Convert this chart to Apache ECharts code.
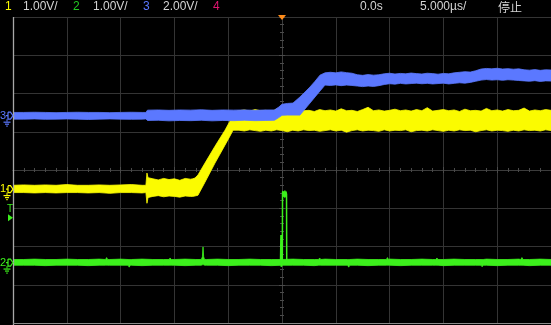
<!DOCTYPE html>
<html><head><meta charset="utf-8">
<script src="https://cdn.jsdelivr.net/npm/echarts@6/dist/echarts.min.js"></script>
<style>html,body{margin:0;padding:0;background:#000;overflow:hidden}#c{width:551px;height:325px}</style>
</head><body><div id="c"></div>
<script>
// ---- scope settings (read from the header) ----
const chLabels = ['1', '2', '3', '4'];
const chScaleText = ['1.00V/', '1.00V/', '2.00V/'];
const timeCenterText = '0.0s';
const timeScaleText = '5.000µs/';
const runStateText = '停止';
const voltsPerDiv = { ch1: 1.0, ch2: 1.0, ch3: 2.0 };
const offsetDiv = { ch1: -0.5, ch2: -2.42, ch3: 1.42 };
const triggerLevelCh2 = 1.17;

// ---- channel 1 (yellow) envelope, time in µs, volts ----
const ch1Time = [-25,-24,-23,-22,-21,-20,-19,-18,-17,-16,-15,-14,-13,-12.65,
  -12.55,-12.45,
  -12,-11.5,-11,-10.5,-10,-9.5,-9,-8.5,-8.3,
  -8.09,-7.81,-7.16,-6.23,-5.30,-4.83,-4.55,-4.18,
  -4,-3.5,-3,-2.5,-2,-1.5,-1,-0.5,0,0.5,1,1.5,2,2.5,3,3.5,4,4.5,5,5.5,6,6.5,7,7.5,8,8.5,9,9.5,10,10.5,11,11.5,12,12.5,13,13.5,14,14.5,15,15.5,16,16.5,17,17.5,18,18.5,19,19.5,20,20.5,21,21.5,22,22.5,23,23.5,24,24.5,25];
const ch1Hi = [0.10,0.11,0.10,0.11,0.10,0.12,0.10,0.10,0.11,0.10,0.11,0.12,0.10,0.10,
  0.42,0.30,
  0.27,0.24,0.28,0.25,0.27,0.23,0.28,0.26,0.27,
  0.29,0.37,0.68,1.12,1.54,1.78,1.91,2.04,
  2.05,2.07,2.04,2.08,2.05,2.06,2.03,2.09,2.05,2.07,
  2.04,2.12,2.05,2.06,2.03,2.08,2.05,2.07,2.04,2.10,
  2.05,2.06,2.03,2.08,2.14,2.05,2.07,2.04,2.06,2.09,
  2.05,2.07,2.04,2.08,2.05,2.13,2.04,2.06,2.08,2.05,
  2.07,2.03,2.09,2.05,2.06,2.04,2.11,2.05,2.07,2.04,
  2.08,2.05,2.06,2.12,2.04,2.07,2.05,2.08,2.06];
const ch1Lo = [-0.09,-0.09,-0.10,-0.09,-0.10,-0.09,-0.09,-0.10,-0.09,-0.11,-0.09,-0.09,-0.10,-0.09,
  -0.37,-0.22,
  -0.19,-0.17,-0.20,-0.18,-0.19,-0.21,-0.18,-0.19,-0.19,
  -0.18,-0.16,0.18,0.68,1.15,1.39,1.54,1.54,
  1.54,1.52,1.55,1.53,1.51,1.54,1.52,1.55,1.53,1.50,
  1.54,1.52,1.55,1.53,1.54,1.51,1.53,1.55,1.52,1.54,
  1.49,1.53,1.55,1.52,1.54,1.53,1.51,1.55,1.52,1.54,
  1.53,1.55,1.50,1.53,1.54,1.52,1.55,1.53,1.51,1.54,
  1.52,1.55,1.53,1.54,1.50,1.53,1.55,1.52,1.54,1.53,
  1.51,1.54,1.52,1.55,1.53,1.54,1.52,1.55,1.53];

// ---- channel 3 (blue) envelope ----
const ch3Time = [-25,-24,-23,-22,-21,-20,-19,-18,-17,-16,-15,-14,-13,-12.65,
  -12.5,-11.5,-10.5,-9.5,-8.5,-7.5,-6.5,-5.5,-4.5,-3.5,-2.5,-1.5,-0.7,
  -0.3,0.0,0.5,1.02,1.67,2.14,2.60,3.07,3.53,4.0,
  4.5,5,5.5,6,6.5,7,7.5,8,8.5,9,9.5,10,10.5,11,11.5,12,12.5,13,13.5,14,14.5,15,15.5,16,16.5,17,17.5,18,18.5,19,19.5,20,20.5,21,21.5,22,22.5,23,23.5,24,24.5,25];
const ch3Hi = [0.17,0.17,0.18,0.17,0.16,0.17,0.18,0.17,0.17,0.16,0.17,0.18,0.17,0.17,
  0.29,0.30,0.28,0.30,0.29,0.31,0.28,0.30,0.29,0.30,0.28,0.30,0.30,
  0.45,0.60,0.64,0.66,0.98,1.24,1.50,1.80,2.12,2.24,
  2.27,2.24,2.29,2.25,2.22,2.14,2.11,2.15,2.12,2.14,2.19,2.22,2.18,2.21,2.19,2.23,2.20,2.18,2.22,2.20,2.17,2.21,2.19,2.24,2.27,2.30,2.28,2.35,2.44,2.47,2.45,2.48,2.44,2.46,2.43,2.45,2.40,2.38,2.41,2.37,2.40,2.39];
const ch3Lo = [-0.18,-0.18,-0.17,-0.19,-0.18,-0.17,-0.18,-0.20,-0.18,-0.17,-0.18,-0.19,-0.18,-0.17,
  -0.25,-0.24,-0.27,-0.25,-0.26,-0.24,-0.27,-0.25,-0.26,-0.24,-0.26,-0.25,-0.24,
  -0.10,0.02,0.03,0.03,0.03,0.35,0.66,0.98,1.29,1.60,
  1.58,1.61,1.57,1.60,1.58,1.55,1.52,1.55,1.53,1.57,1.63,1.67,1.65,1.69,1.66,1.68,1.70,1.67,1.69,1.66,1.68,1.70,1.66,1.69,1.72,1.70,1.74,1.80,1.86,1.89,1.86,1.88,1.85,1.88,1.86,1.84,1.82,1.80,1.83,1.79,1.82,1.81];

// ---- channel 2 (green) envelope ----
const ch2Time = [-25,-24,-23,-22,-21,-20,-19,-18,-17,-16.4,-16.3,-16.2,-16,-15,-14.3,-14.2,-14.1,-14,-13,-12,-11,-10.5,-10.4,-10.3,-10,-9,-8,
  -7.5,-7.4,-7.34,-7.28,-7.2,
  -7,-6,-5,-4,-3,-2,-1,0,1,2,3,3.4,3.5,3.6,4,5,6.1,6.2,6.3,7,8,9,9.7,9.8,9.9,10,11,12,13,14,14.3,14.4,14.5,15,16,17,18,18.5,18.6,18.7,19,20,21,22,22.2,22.3,22.4,23,24,25];
const ch2Hi = [0.08,0.08,0.09,0.08,0.08,0.09,0.08,0.08,0.09,0.08,0.13,0.08,0.08,0.09,0.08,0.08,0.08,0.08,0.09,0.08,0.08,0.08,0.12,0.08,0.08,0.09,0.08,
  0.08,0.15,0.41,0.15,0.08,
  0.08,0.09,0.08,0.08,0.09,0.08,0.08,0.08,0.09,0.08,0.08,0.08,0.12,0.08,0.09,0.08,0.08,0.08,0.08,0.09,0.08,0.08,0.08,0.13,0.08,0.09,0.08,0.08,0.09,0.08,0.08,0.12,0.08,0.08,0.09,0.08,0.08,0.08,0.08,0.08,0.09,0.08,0.08,0.09,0.08,0.13,0.08,0.08,0.09,0.08];
const ch2Lo = [-0.07,-0.07,-0.07,-0.08,-0.07,-0.07,-0.07,-0.08,-0.07,-0.07,-0.07,-0.07,-0.07,-0.07,-0.07,-0.12,-0.07,-0.07,-0.08,-0.07,-0.07,-0.07,-0.07,-0.07,-0.07,-0.08,-0.07,
  -0.07,-0.06,-0.05,-0.06,-0.07,
  -0.07,-0.07,-0.08,-0.07,-0.07,-0.07,-0.08,-0.07,-0.07,-0.07,-0.08,-0.07,-0.07,-0.07,-0.07,-0.07,-0.07,-0.12,-0.07,-0.07,-0.08,-0.07,-0.07,-0.07,-0.07,-0.07,-0.08,-0.07,-0.07,-0.07,-0.07,-0.07,-0.07,-0.08,-0.07,-0.07,-0.07,-0.07,-0.11,-0.07,-0.07,-0.08,-0.07,-0.07,-0.07,-0.07,-0.07,-0.08,-0.07,-0.07];
const ch2PulseTime = [-0.14,-0.10,-0.07,0.03,0.05,0.42,0.44,0.50];
const ch2PulseV = [0.0,0.72,-0.11,0.0,1.84,1.80,0.0,0.0];
const ch2CapTime = [0.05,0.15,0.25,0.35,0.42];
const ch2CapHi = [1.87,1.85,1.88,1.86,1.85];
const ch2CapLo = [1.71,1.73,1.70,1.72,1.71];

const COL = { ch1: '#fbfb00', ch2: '#3cf01c', ch3: '#5b78ff', ch4: '#e0156f', text: '#d4d4d4', grid: '#343434' };

function toDiv(ch, v) { return v / voltsPerDiv[ch] + offsetDiv[ch]; }
// noisy trace drawn as a filled envelope between hi and lo, through the axes' scales
function band(ch, t, hi, lo, color) {
  const rows = t.map((x, i) => [x, toDiv(ch, hi[i]), toDiv(ch, lo[i])]);
  return {
    type: 'custom', silent: true, clip: true, data: rows,
    encode: { x: 0, y: [1, 2] },
    renderItem: function (params, api) {
      if (params.dataIndex !== 0) return null;
      const top = rows.map(r => api.coord([r[0], r[1]]));
      const bot = rows.map(r => api.coord([r[0], r[2]])).reverse();
      return { type: 'polygon', shape: { points: top.concat(bot) },
               style: { fill: color, stroke: color, lineWidth: 0.8 } };
    }
  };
}

const series = [
  band('ch1', ch1Time, ch1Hi, ch1Lo, COL.ch1),
  band('ch2', ch2Time, ch2Hi, ch2Lo, COL.ch2),
  band('ch2', ch2CapTime, ch2CapHi, ch2CapLo, COL.ch2),
  { type: 'line', symbol: 'none', silent: true, lineStyle: { color: COL.ch2, width: 1.5 },
    data: ch2PulseTime.map((x, i) => [x, toDiv('ch2', ch2PulseV[i])]) },
  band('ch3', ch3Time, ch3Hi, ch3Lo, COL.ch3)
];

const chart = echarts.init(document.getElementById('c'), null, { renderer: 'canvas' });
const axisCommon = {
  axisLabel: { show: false },
  splitLine: { show: true, lineStyle: { color: COL.grid, width: 1 } },
  axisLine: { show: true, onZero: true, lineStyle: { color: '#3c3c3c' } },
  axisTick: { show: true, inside: true, length: 3, lineStyle: { color: '#4a4a4a' } },
  minorTick: { show: true, splitNumber: 5, length: 2, lineStyle: { color: '#4a4a4a' } }
};
chart.setOption({
  backgroundColor: '#000',
  animation: false,
  grid: { left: 13, right: 0, top: 17, bottom: 2 },
  xAxis: [
    Object.assign({ type: 'value', min: -25, max: 25, interval: 5, position: 'bottom' }, axisCommon),
    Object.assign({ type: 'value', min: -25, max: 25, interval: 5, position: 'top' }, axisCommon, { splitLine: { show: false } })
  ],
  yAxis: [
    Object.assign({ type: 'value', min: -4, max: 4, interval: 1, position: 'left' }, axisCommon),
    Object.assign({ type: 'value', min: -4, max: 4, interval: 1, position: 'right' }, axisCommon, { splitLine: { show: false } })
  ],
  series: series
});

function txt(x, s, color, font) {
  return { type: 'text', x: x, y: 7, silent: true, z: 20,
    style: { text: s, fill: color, font: font || '12px "Liberation Sans", Arial, sans-serif', verticalAlign: 'middle' } };
}
function marker(label, y, color) {
  return [
    { type: 'text', x: 0, y: y, silent: true, z: 20, style: { text: label, fill: color, font: '11px "Liberation Sans", sans-serif', verticalAlign: 'middle' } },
    { type: 'polyline', silent: true, z: 20, shape: { points: [[8, y - 3.5], [10.5, y - 3.5], [13, y], [10.5, y + 3.5], [8, y + 3.5], [8, y - 3.5]] }, style: { stroke: color, fill: null, lineWidth: 1.2 } },
    { type: 'line', silent: true, z: 20, shape: { x1: 6, y1: y, x2: 8, y2: y }, style: { stroke: color, lineWidth: 1.2 } },
    { type: 'line', silent: true, z: 20, shape: { x1: 7, y1: y + 3.5, x2: 7, y2: y + 6 }, style: { stroke: color, lineWidth: 1 } },
    { type: 'line', silent: true, z: 20, shape: { x1: 3.5, y1: y + 6.5, x2: 10.5, y2: y + 6.5 }, style: { stroke: color, lineWidth: 1.2 } },
    { type: 'line', silent: true, z: 20, shape: { x1: 5, y1: y + 8.5, x2: 9, y2: y + 8.5 }, style: { stroke: color, lineWidth: 1.2 } },
    { type: 'line', silent: true, z: 20, shape: { x1: 6.3, y1: y + 10.5, x2: 7.7, y2: y + 10.5 }, style: { stroke: color, lineWidth: 1.2 } }
  ];
}

const yPix = ch => chart.convertToPixel({ yAxisIndex: 0 }, offsetDiv[ch]);
const xCenter = chart.convertToPixel({ xAxisIndex: 0 }, 0);
const yTrig = chart.convertToPixel({ yAxisIndex: 0 }, toDiv('ch2', triggerLevelCh2));
const W = chart.getWidth(), H = chart.getHeight();

const graphics = [
  txt(5, chLabels[0], COL.ch1), txt(23, chScaleText[0], COL.text),
  txt(73, chLabels[1], '#22c822'), txt(93, chScaleText[1], COL.text),
  txt(143, chLabels[2], COL.ch3), txt(163, chScaleText[2], COL.text),
  txt(213, chLabels[3], COL.ch4),
  txt(360, timeCenterText, COL.text), txt(420, timeScaleText, COL.text),
  txt(498, runStateText, COL.text, '12px "Noto Sans CJK SC", sans-serif'),
  { type: 'polygon', silent: true, z: 21, shape: { points: [[xCenter - 4, 15], [xCenter + 4, 15], [xCenter, 20]] }, style: { fill: '#ff8c1a' } },
  { type: 'line', silent: true, z: 20, shape: { x1: 13.5, y1: 17, x2: 13.5, y2: H }, style: { stroke: '#a8a8a8', lineWidth: 1.3 } },
  { type: 'line', silent: true, z: 20, shape: { x1: 13, y1: H - 1.5, x2: W, y2: H - 1.5 }, style: { stroke: '#8a8a8a', lineWidth: 1 } }
].concat(
  marker('3', yPix('ch3'), COL.ch3),
  marker('1', yPix('ch1'), COL.ch1),
  marker('2', yPix('ch2'), COL.ch2),
  [
    { type: 'text', x: 7, y: yTrig - 9, silent: true, z: 20, style: { text: 'T', fill: COL.ch2, font: '10px "Liberation Sans", sans-serif', verticalAlign: 'middle' } },
    { type: 'polygon', silent: true, z: 20, shape: { points: [[8, yTrig - 3.5], [13, yTrig], [8, yTrig + 3.5]] }, style: { fill: COL.ch2 } }
  ]
);
chart.setOption({ graphic: graphics });
</script></body></html>
